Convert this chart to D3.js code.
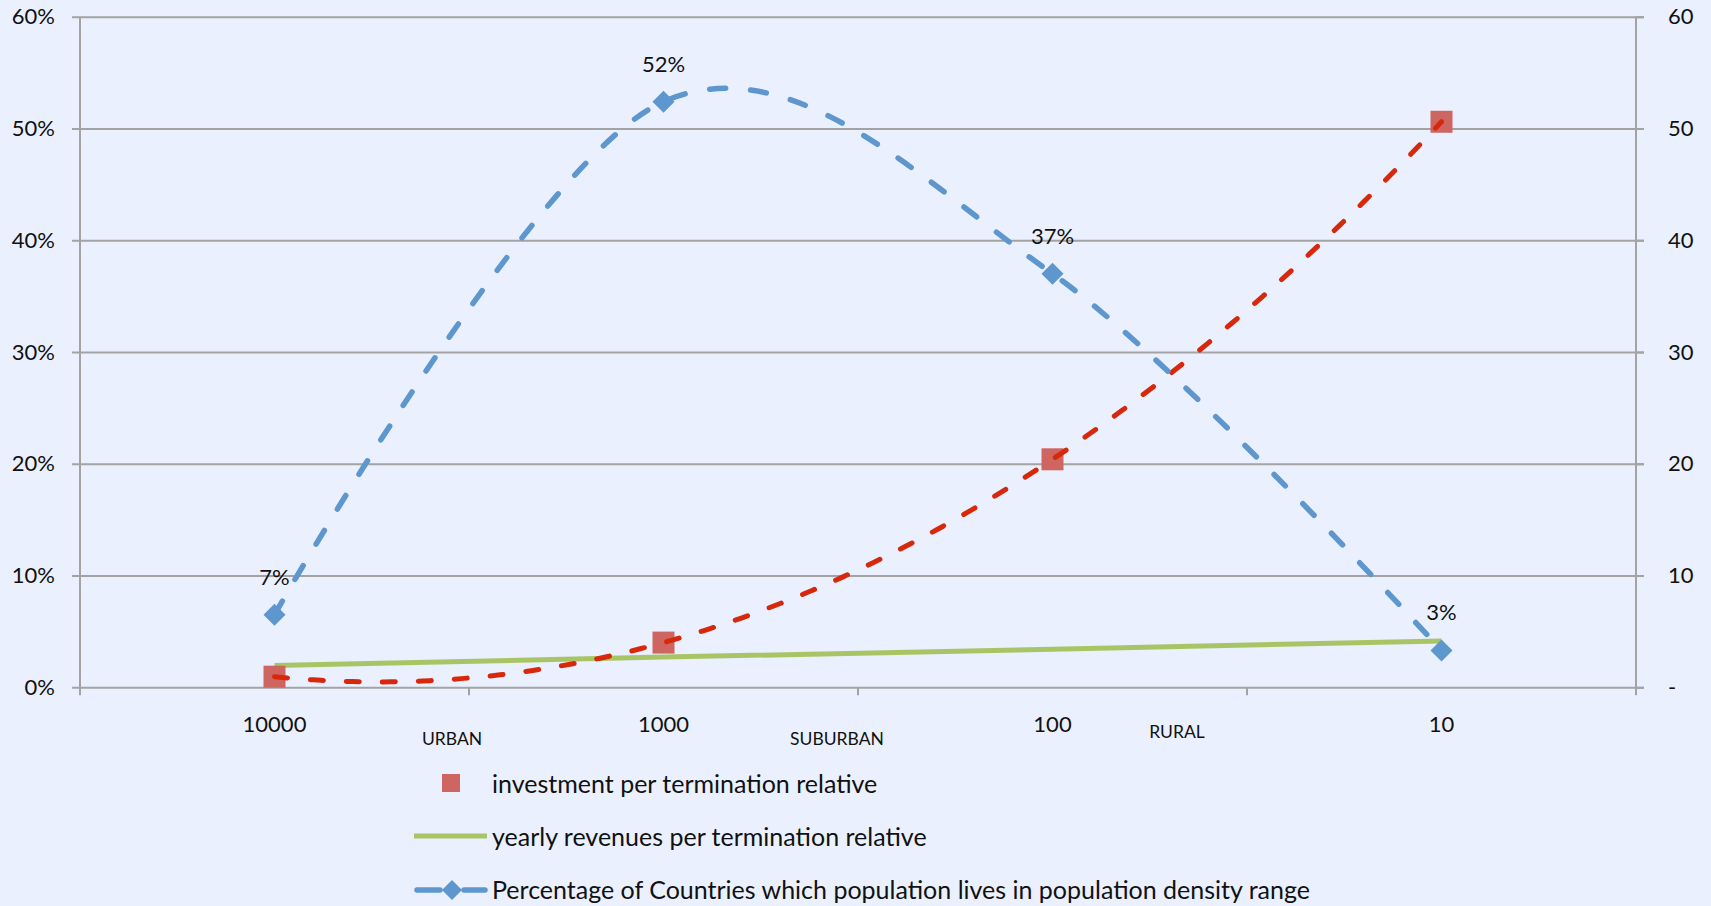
<!DOCTYPE html>
<html>
<head>
<meta charset="utf-8">
<script src="https://cdn.jsdelivr.net/npm/d3@7"></script>
<style>
  html, body { margin: 0; padding: 0; background: #EAF0FD; }
  svg { display: block; font-family: Lato, "Open Sans", sans-serif; }
</style>
</head>
<body>
<svg id="chart" width="1711" height="906"></svg>
<script>
// Population density ranges (inhabitants per km²), dense to sparse
const densities = ["10000", "1000", "100", "10"];
const zoneLabels = ["URBAN", "SUBURBAN", "RURAL"];

// Share of countries' population living in each density range (left axis)
const populationShare = [0.065, 0.524, 0.37, 0.033];
// Investment per termination, relative (right axis)
const investment = [0.95, 4.0, 20.4, 50.6];
// Yearly revenues per termination, relative (right axis)
const revenues = [1.95, 2.7, 3.4, 4.15];

const leftTicks = [0, 0.1, 0.2, 0.3, 0.4, 0.5, 0.6];
const rightTicks = [0, 10, 20, 30, 40, 50, 60];

const legendLabels = [
  "investment per termination relative",
  "yearly revenues per termination relative",
  "Percentage of Countries which population lives in population density range"
];

const colors = {
  bg: "#EAF0FD",
  grid: "#A3A3A3",
  blue: "#5E96CE",
  red: "#D8280C",
  square: "#CF6560",
  green: "#A8C566",
  text: "#111"
};

const svg = d3.select("#chart");
const W = 1711, H = 906;
const plot = { left: 80, right: 1636, top: 16.7, bottom: 687.3 };

svg.append("rect").attr("width", W).attr("height", H).attr("fill", colors.bg);

const x = d3.scaleBand().domain(densities).range([plot.left, plot.right]).padding(0);
const cx = d => x(d) + x.bandwidth() / 2;
const yPct = d3.scaleLinear().domain([0, 0.6]).range([plot.bottom, plot.top]);
const yVal = d3.scaleLinear().domain([0, 60]).range([plot.bottom, plot.top]);

// Left axis with horizontal gridlines
const gLeft = svg.append("g").attr("transform", `translate(${plot.left},0)`)
  .call(d3.axisLeft(yPct).tickValues(leftTicks).tickFormat(d => Math.round(d * 100) + "%")
    .tickSize(8).tickPadding(17));
gLeft.select(".domain").remove();
gLeft.selectAll(".tick line").attr("x2", plot.right - plot.left + 8).attr("x1", -8);
gLeft.selectAll(".tick line").attr("stroke", colors.grid).attr("stroke-width", 2);
gLeft.selectAll(".tick text").attr("font-size", 22).attr("fill", colors.text)
  .attr("font-family", "Lato, 'Open Sans', sans-serif");

// Right axis
const gRight = svg.append("g").attr("transform", `translate(${plot.right},0)`)
  .call(d3.axisRight(yVal).tickValues(rightTicks).tickFormat(d => d === 0 ? "-" : d)
    .tickSize(8).tickPadding(24));
gRight.select(".domain").remove();
gRight.selectAll(".tick line").attr("stroke", colors.grid).attr("stroke-width", 2);
gRight.selectAll(".tick text").attr("font-size", 22).attr("fill", colors.text)
  .attr("font-family", "Lato, 'Open Sans', sans-serif");

// Vertical axis lines
[plot.left, plot.right].forEach(px => {
  svg.append("line").attr("x1", px).attr("x2", px).attr("y1", plot.top).attr("y2", plot.bottom)
    .attr("stroke", colors.grid).attr("stroke-width", 2);
});

// Category axis: ticks at band boundaries
const boundaries = densities.map(d => x(d)).concat([plot.right]);
svg.append("g").selectAll("line").data(boundaries).join("line")
  .attr("x1", d => d).attr("x2", d => d)
  .attr("y1", plot.bottom).attr("y2", plot.bottom + 8)
  .attr("stroke", colors.grid).attr("stroke-width", 2);

svg.append("g").selectAll("text").data(densities).join("text")
  .attr("x", d => cx(d)).attr("y", 732)
  .attr("text-anchor", "middle").attr("font-size", 22).attr("fill", colors.text)
  .text(d => d);

// Zone annotations placed just left of the inner boundary ticks
const zonePlacement = [{ dx: -17, y: 745 }, { dx: -21, y: 745 }, { dx: -70, y: 738 }];
svg.append("g").selectAll("text").data(zoneLabels).join("text")
  .attr("x", (d, i) => boundaries[i + 1] + zonePlacement[i].dx)
  .attr("y", (d, i) => zonePlacement[i].y)
  .attr("text-anchor", "middle").attr("font-size", 17.5).attr("fill", colors.text)
  .text(d => d);

// Revenues: straight line
svg.append("path")
  .datum(revenues)
  .attr("fill", "none").attr("stroke", colors.green).attr("stroke-width", 5)
  .attr("d", d3.line().x((d, i) => cx(densities[i])).y(d => yVal(d)));

// Investment markers
svg.append("g").selectAll("rect").data(investment).join("rect")
  .attr("x", (d, i) => cx(densities[i]) - 11)
  .attr("y", d => yVal(d) - 11)
  .attr("width", 22).attr("height", 22)
  .attr("fill", colors.square);

// Polynomial trendline (order 3, least squares) over the investment values
function polyFit(xs, ys, order) {
  const n = order + 1;
  const A = Array.from({ length: n }, () => new Array(n + 1).fill(0));
  xs.forEach((xv, k) => {
    for (let i = 0; i < n; i++) {
      for (let j = 0; j < n; j++) A[i][j] += Math.pow(xv, i + j);
      A[i][n] += ys[k] * Math.pow(xv, i);
    }
  });
  for (let c = 0; c < n; c++) {
    let p = c;
    for (let r = c + 1; r < n; r++) if (Math.abs(A[r][c]) > Math.abs(A[p][c])) p = r;
    [A[c], A[p]] = [A[p], A[c]];
    for (let r = 0; r < n; r++) {
      if (r === c) continue;
      const f = A[r][c] / A[c][c];
      for (let k = c; k <= n; k++) A[r][k] -= f * A[c][k];
    }
  }
  return A.map((row, i) => row[n] / row[i]);
}
const idx = investment.map((d, i) => i + 1);
const coef = polyFit(idx, investment, 3);
const poly = t => coef.reduce((s, c, i) => s + c * Math.pow(t, i), 0);
const tx = d3.scaleLinear().domain([1, densities.length]).range([cx(densities[0]), cx(densities[densities.length - 1])]);
const trend = d3.range(1, densities.length + 0.0001, 0.02).map(t => [tx(t), yVal(poly(t))]);
svg.append("path")
  .datum(trend)
  .attr("fill", "none").attr("stroke", colors.red).attr("stroke-width", 5)
  .attr("stroke-linecap", "round").attr("stroke-dasharray", "13 23")
  .attr("d", d3.line());

// Population share: smoothed dashed line with diamond markers
svg.append("path")
  .datum(populationShare)
  .attr("fill", "none").attr("stroke", colors.blue).attr("stroke-width", 5.5)
  .attr("stroke-linecap", "round").attr("stroke-dasharray", "16 25")
  .attr("d", d3.line().x((d, i) => cx(densities[i])).y(d => yPct(d)).curve(d3.curveCardinal.tension(0)));

const diamond = r => `M0,${-r}L${r},0L0,${r}L${-r},0Z`;
svg.append("g").selectAll("path").data(populationShare).join("path")
  .attr("transform", (d, i) => `translate(${cx(densities[i])},${yPct(d)})`)
  .attr("d", diamond(11))
  .attr("fill", colors.blue);

svg.append("g").selectAll("text").data(populationShare).join("text")
  .attr("x", (d, i) => cx(densities[i]))
  .attr("y", d => yPct(d) - 30)
  .attr("text-anchor", "middle").attr("font-size", 22).attr("fill", colors.text)
  .text(d => Math.round(d * 100) + "%");

// Legend
const legend = svg.append("g");
const rowBase = [793, 846, 899];
legend.selectAll("text").data(legendLabels).join("text")
  .attr("x", 492).attr("y", (d, i) => rowBase[i])
  .attr("font-size", 25).attr("fill", colors.text)
  .text(d => d);

legend.append("rect")
  .attr("x", 442).attr("y", rowBase[0] - 19).attr("width", 18).attr("height", 18)
  .attr("fill", colors.square);

legend.append("line")
  .attr("x1", 414).attr("x2", 487).attr("y1", rowBase[1] - 10).attr("y2", rowBase[1] - 10)
  .attr("stroke", colors.green).attr("stroke-width", 5);

const ly = rowBase[2] - 9;
legend.append("line").attr("x1", 417).attr("x2", 440).attr("y1", ly).attr("y2", ly)
  .attr("stroke", colors.blue).attr("stroke-width", 5.5).attr("stroke-linecap", "round");
legend.append("line").attr("x1", 464).attr("x2", 485).attr("y1", ly).attr("y2", ly)
  .attr("stroke", colors.blue).attr("stroke-width", 5.5).attr("stroke-linecap", "round");
legend.append("path").attr("transform", `translate(452,${ly})`).attr("d", diamond(10))
  .attr("fill", colors.blue);
</script>
</body>
</html>
